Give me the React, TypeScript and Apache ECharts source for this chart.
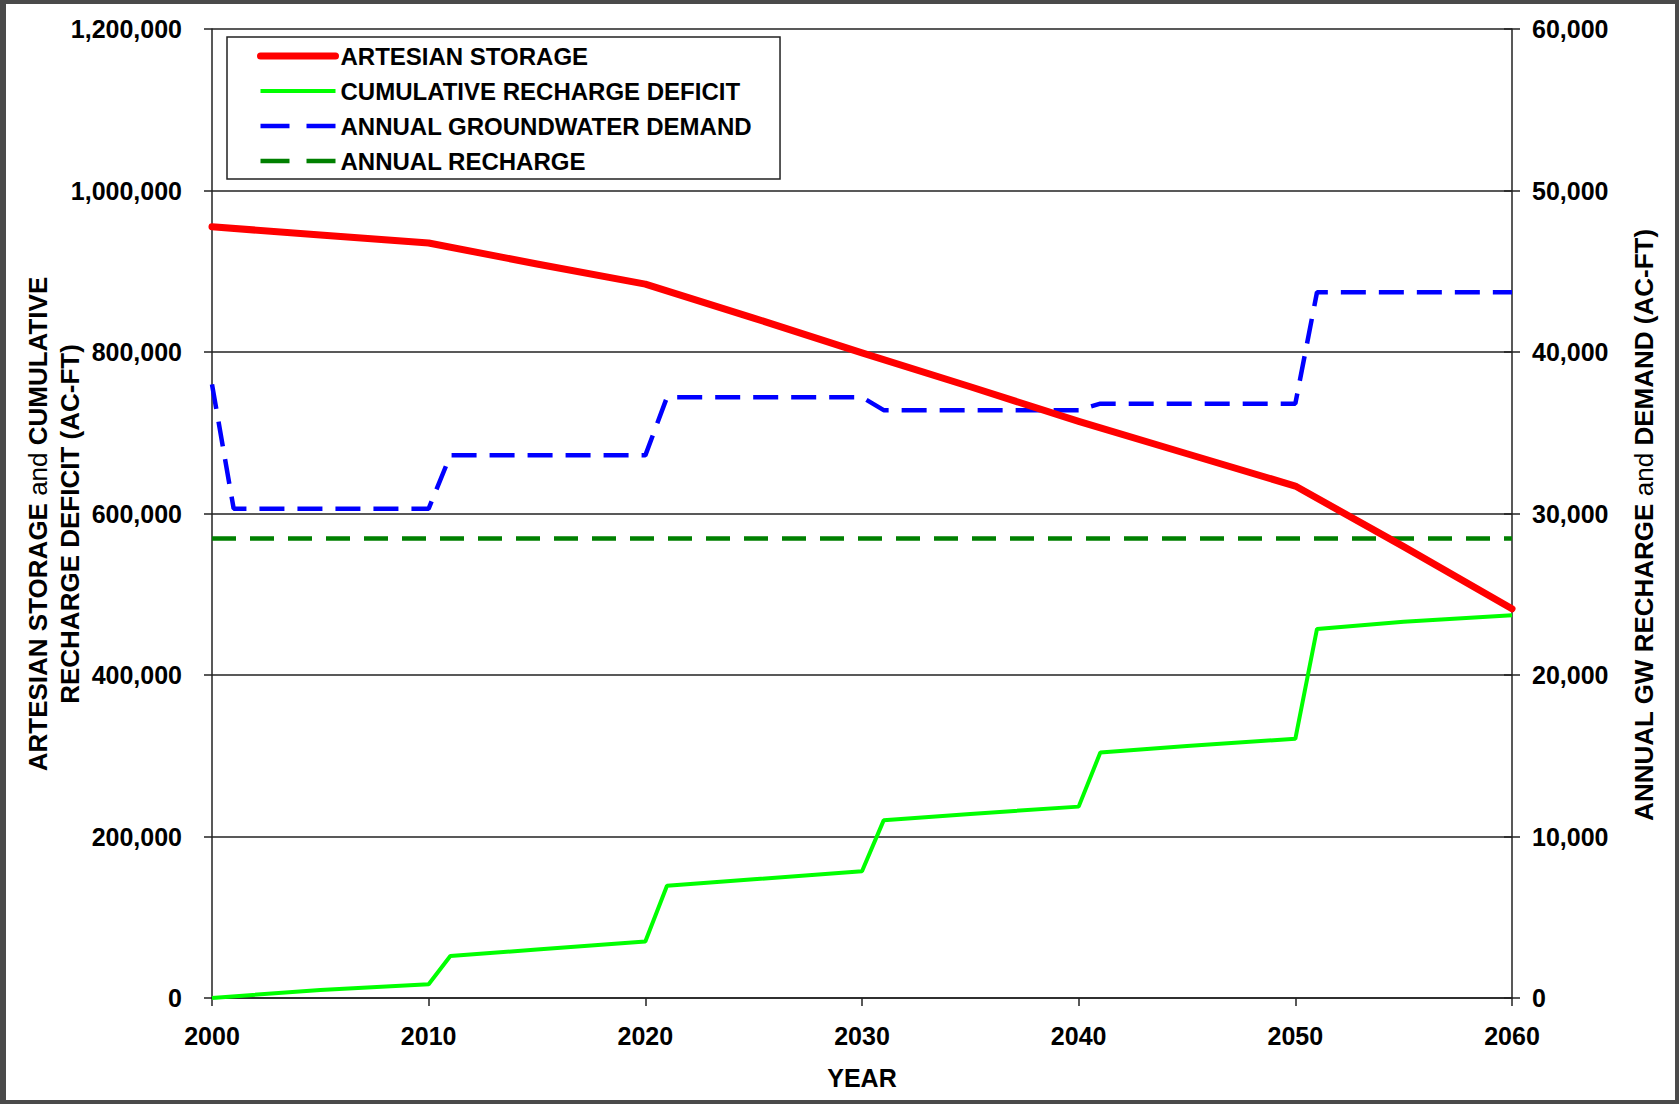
import React, { useEffect, useRef } from "react";
import * as echarts from "echarts";

const STORAGE_YEARS = [2000, 2005, 2010, 2015, 2020, 2025, 2030, 2035, 2040, 2045, 2050, 2055, 2060];
const STORAGE = [955000, 945000, 935000, 909000, 884000, 842000, 799000, 757000, 714000, 674000, 634000, 559000, 482000];

const DEFICIT_YEARS = [2000, 2005, 2010, 2011, 2015, 2020, 2021, 2025, 2030, 2031, 2035, 2040, 2041, 2045, 2050, 2051, 2055, 2060];
const DEFICIT = [0, 10000, 17000, 52000, 60000, 70000, 139000, 147000, 157000, 220000, 228000, 237000, 304000, 312000, 321000, 457000, 466000, 474000];

const DEMAND_YEARS = [2000, 2001, 2010, 2011, 2020, 2021, 2030, 2031, 2040, 2041, 2050, 2051, 2060];
const DEMAND = [38000, 30300, 30300, 33600, 33600, 37200, 37200, 36400, 36400, 36800, 36800, 43700, 43700];

const RECHARGE_YEARS = [2000, 2060];
const RECHARGE = [28450, 28450];

const SERIES_NAMES = [
  "ARTESIAN STORAGE",
  "CUMULATIVE RECHARGE DEFICIT",
  "ANNUAL GROUNDWATER DEMAND",
  "ANNUAL RECHARGE",
];

const X_TITLE = "YEAR";
const LEFT_TITLE = "{b|ARTESIAN STORAGE }{n|and}{b| CUMULATIVE}\n{b|RECHARGE DEFICIT (AC-FT)}";
const RIGHT_TITLE = "{b|ANNUAL GW RECHARGE }{n|and}{b| DEMAND (AC-FT)}";

const FONT = "'Liberation Sans', Arial, Helvetica, sans-serif";

const pairs = (xs: number[], ys: number[]) => xs.map((x, i) => [x, ys[i]]);

const STYLES = [
  { color: "#ff0000", width: 7, type: "solid" as any, cap: "round" as const, join: "round" as const },
  { color: "#00ff00", width: 4, type: "solid" as any },
  { color: "#0000ff", width: 4.5, type: [25, 13] as any },
  { color: "#008000", width: 4.5, type: [24, 14] as any },
];
const LEGEND_DASH = [29, 17];

export default function App() {
  const ref = useRef<HTMLDivElement>(null);
  useEffect(() => {
    if (!ref.current) return;
    const chart = echarts.init(ref.current, null, { renderer: "svg" });
    const axisLineStyle = { color: "#222", width: 1.5 };
    const labelStyle = { color: "#000", fontSize: 25, fontWeight: "bold" as const, fontFamily: FONT };
    const titleRich = {
      b: { fontSize: 26, fontWeight: "bold", fontFamily: FONT, color: "#000", lineHeight: 32 },
      n: { fontSize: 26, fontWeight: "normal", fontFamily: FONT, color: "#000", lineHeight: 32 },
    };
    chart.setOption({
      animation: false,
      backgroundColor: "#4a4a4a",
      graphic: [
        { type: "rect", z: -10, shape: { x: 6, y: 4, width: 1669, height: 1096 }, style: { fill: "#ffffff" } },
        {
          type: "text",
          x: 862,
          y: 1078,
          style: { text: X_TITLE, fontSize: 25, fontWeight: "bold", fontFamily: FONT, fill: "#000", align: "center", verticalAlign: "middle", textAlign: "center", textVerticalAlign: "middle" },
        },
        {
          type: "text",
          x: 54,
          y: 524,
          rotation: Math.PI / 2,
          style: { text: LEFT_TITLE, rich: titleRich, fill: "#000", align: "center", verticalAlign: "middle", textAlign: "center", textVerticalAlign: "middle" },
        },
        {
          type: "text",
          x: 1644,
          y: 525,
          rotation: Math.PI / 2,
          style: { text: RIGHT_TITLE, rich: titleRich, fill: "#000", align: "center", verticalAlign: "middle", textAlign: "center", textVerticalAlign: "middle" },
        },
      ],
      legend: {
        data: SERIES_NAMES.map((name, i) => ({
          name,
          itemStyle: { opacity: 0, color: "transparent", borderWidth: 0 },
          lineStyle: { ...STYLES[i], type: i >= 2 ? LEGEND_DASH : STYLES[i].type },
        })),
        orient: "vertical",
        left: 227,
        top: 37,
        backgroundColor: "#ffffff",
        borderColor: "#222",
        borderWidth: 1.5,
        padding: [7, 28, 6, 30],
        itemWidth: 75,
        itemHeight: 24,
        itemGap: 11,
        selectedMode: false,
        textStyle: { color: "#000", fontSize: 24, fontWeight: "bold", fontFamily: FONT },
      },
      grid: { left: 212, right: 167, top: 29, bottom: 106, containLabel: false },
      xAxis: {
        type: "value",
        min: 2000,
        max: 2060,
        interval: 10,
        axisLine: { show: true, lineStyle: axisLineStyle },
        axisTick: { show: true, inside: false, length: 8, lineStyle: axisLineStyle },
        axisLabel: { ...labelStyle, margin: 25, formatter: (v: number) => String(v) },
        splitLine: { show: false },
      },
      yAxis: [
        {
          type: "value",
          position: "left",
          min: 0,
          max: 1200000,
          interval: 200000,
          axisLine: { show: true, lineStyle: axisLineStyle },
          axisTick: { show: true, inside: false, length: 8, lineStyle: axisLineStyle },
          axisLabel: { ...labelStyle, margin: 30 },
          splitLine: { show: true, lineStyle: { color: "#222", width: 1.5 } },
        },
        {
          type: "value",
          position: "right",
          min: 0,
          max: 60000,
          interval: 10000,
          axisLine: { show: true, lineStyle: axisLineStyle },
          axisTick: { show: true, inside: false, length: 8, lineStyle: axisLineStyle },
          axisLabel: { ...labelStyle, margin: 20 },
          splitLine: { show: false },
        },
        {
          type: "value",
          position: "right",
          min: 0,
          max: 60000,
          interval: 10000,
          axisLine: { show: false },
          axisTick: { show: true, inside: true, length: 8, lineStyle: axisLineStyle },
          axisLabel: { show: false },
          splitLine: { show: false },
        },
      ],
      series: [
        {
          name: SERIES_NAMES[0],
          type: "line",
          yAxisIndex: 0,
          z: 5,
          symbol: "none",
          data: pairs(STORAGE_YEARS, STORAGE),
          lineStyle: STYLES[0],
          itemStyle: { color: STYLES[0].color },
        },
        {
          name: SERIES_NAMES[1],
          type: "line",
          yAxisIndex: 0,
          z: 3,
          symbol: "none",
          data: pairs(DEFICIT_YEARS, DEFICIT),
          lineStyle: STYLES[1],
          itemStyle: { color: STYLES[1].color },
        },
        {
          name: SERIES_NAMES[2],
          type: "line",
          yAxisIndex: 1,
          z: 4,
          symbol: "none",
          data: pairs(DEMAND_YEARS, DEMAND),
          lineStyle: STYLES[2],
          itemStyle: { color: STYLES[2].color },
        },
        {
          name: SERIES_NAMES[3],
          type: "line",
          yAxisIndex: 1,
          z: 3,
          symbol: "none",
          data: pairs(RECHARGE_YEARS, RECHARGE),
          lineStyle: STYLES[3],
          itemStyle: { color: STYLES[3].color },
        },
      ],
    });
    return () => chart.dispose();
  }, []);
  return (
    <div
      ref={ref}
      style={{ position: "absolute", left: 0, top: 0, width: 1679, height: 1104 }}
    />
  );
}
